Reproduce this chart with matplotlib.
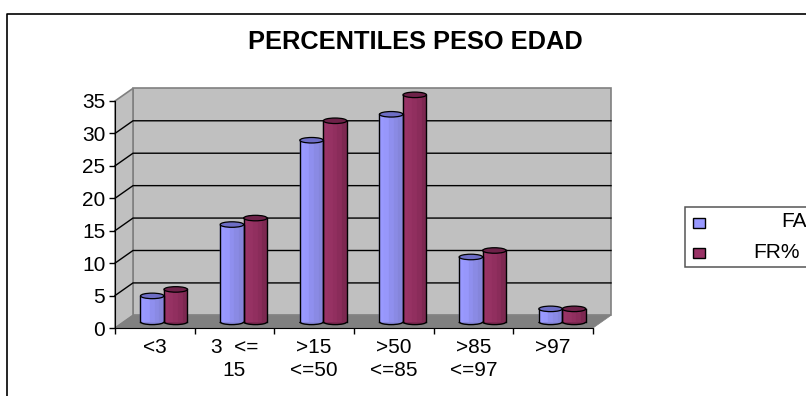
import matplotlib
matplotlib.use("Agg")
import matplotlib.pyplot as plt
from matplotlib.patches import Ellipse, Arc, Polygon, Rectangle

plt.rcParams['font.family'] = ['Liberation Sans', 'DejaVu Sans']

# percentiles de peso para la edad
categorias = ['<3', '3  <=\n15', '>15\n<=50', '>50\n<=85', '>85\n<=97', '>97']
fa = [4, 15, 28, 32, 10, 2]
fr = [5, 16, 31, 35, 11, 2]
y_ticks = [0, 5, 10, 15, 20, 25, 30, 35]

ANCHO, ALTO = 806, 396
# profundidad de la caja 3D, en unidades de los ejes
dx, dy = 0.226, 1.95
ancho_barra = 0.295
alto_elipse = 0.85
sube = 0.95

azul = ['#9999ff', '#9797fb', '#8f8fee', '#8a8ae4', '#8585db']
rojo = ['#993366', '#963263', '#912f5f', '#8a2c5a', '#7d2851']
tapa_azul = '#6d6dc4'
tapa_rojo = '#6e2249'


def fx(px):
    return px / ANCHO


def fy(px):
    return 1 - px / ALTO


def cilindro(ax, x, valor, colores, tapa):
    y0 = sube
    y1 = valor + sube
    cx = x + ancho_barra / 2
    ax.add_patch(Ellipse((cx, y0), ancho_barra, alto_elipse, fc=colores[-1], ec='none', clip_on=False, zorder=5))
    ax.add_patch(Arc((cx, y0), ancho_barra, alto_elipse, theta1=180, theta2=360, color='black', lw=1.0, clip_on=False, zorder=6))
    # franjas verticales para simular el sombreado del cilindro
    n = len(colores)
    for i, c in enumerate(colores):
        ax.add_patch(Rectangle((x + i * ancho_barra / n, y0), ancho_barra / n, valor, fc=c, ec=c, lw=0.2, clip_on=False, zorder=5))
    ax.plot([x, x], [y0, y1], color='black', lw=1.0, clip_on=False, zorder=6)
    ax.plot([x + ancho_barra] * 2, [y0, y1], color='black', lw=1.0, clip_on=False, zorder=6)
    ax.add_patch(Ellipse((cx, y1), ancho_barra, alto_elipse, fc=tapa, ec='black', lw=0.9, clip_on=False, zorder=7))


fig = plt.figure(figsize=(ANCHO / 100, ALTO / 100), dpi=100)
ax = fig.add_axes([fx(115), fy(328), fx(593) - fx(115), (328 - 101) / ALTO])
n = len(categorias)
ax.set_xlim(0, n)
ax.set_ylim(0, 35)
ax.patch.set_visible(False)

# paredes y suelo
ax.add_patch(Polygon([(dx, dy), (n + dx, dy), (n + dx, 35 + dy), (dx, 35 + dy)], fc='#c0c0c0', ec='#808080', lw=1.2, clip_on=False, zorder=1))
ax.add_patch(Polygon([(0, 0), (dx, dy), (dx, 35 + dy), (0, 35)], fc='#c0c0c0', ec='#808080', lw=1.2, clip_on=False, zorder=1))
ax.add_patch(Polygon([(0, 0), (n, 0), (n + dx, dy), (dx, dy)], fc='#808080', ec='#808080', lw=0.5, clip_on=False, zorder=2))

# lineas de division
for v in y_ticks[1:-1]:
    ax.plot([0, dx, n + dx], [v, v + dy, v + dy], color='black', lw=1.0, clip_on=False, zorder=3)

for i in range(n):
    cilindro(ax, i + 0.32, fa[i], azul, tapa_azul)
    cilindro(ax, i + 0.32 + ancho_barra, fr[i], rojo, tapa_rojo)

for s in ['top', 'right']:
    ax.spines[s].set_visible(False)
ax.spines['left'].set_zorder(8)
ax.spines['bottom'].set_zorder(8)
ax.set_yticks(y_ticks)
ax.set_xticks(range(n + 1))
ax.set_xticklabels([])
ax.set_xticks([i + 0.5 for i in range(n)], labels=categorias, minor=True, fontsize=15, linespacing=1.3)
ax.tick_params(axis='x', which='minor', length=0, pad=7)
ax.tick_params(axis='x', which='major', length=4, width=1)
ax.tick_params(axis='y', length=4, width=1, labelsize=15, pad=3)

fig.text(fx(415), fy(42), 'PERCENTILES PESO EDAD', ha='center', va='center', fontsize=18.3, fontweight='bold')

# marco exterior
fig.add_artist(plt.Line2D([fx(7.5), fx(7.5), 1], [0, fy(14), fy(14)], color='black', lw=1.2))

# leyenda
fig.add_artist(Rectangle((fx(685), fy(267)), 1, 60 / ALTO, transform=fig.transFigure, fc='white', ec='#555555', lw=1.1))
for yc, color, nombre, xt in [(223, azul[0], 'FA', 781), (253, rojo[0], 'FR%', 753)]:
    fig.add_artist(Rectangle((fx(693), fy(yc + 5)), 12 / ANCHO, 10 / ALTO, transform=fig.transFigure, fc=color, ec='black', lw=1))
    fig.text(fx(xt), fy(yc - 1), nombre, ha='left', va='center', fontsize=15)

fig.savefig('out.png', dpi=100)
